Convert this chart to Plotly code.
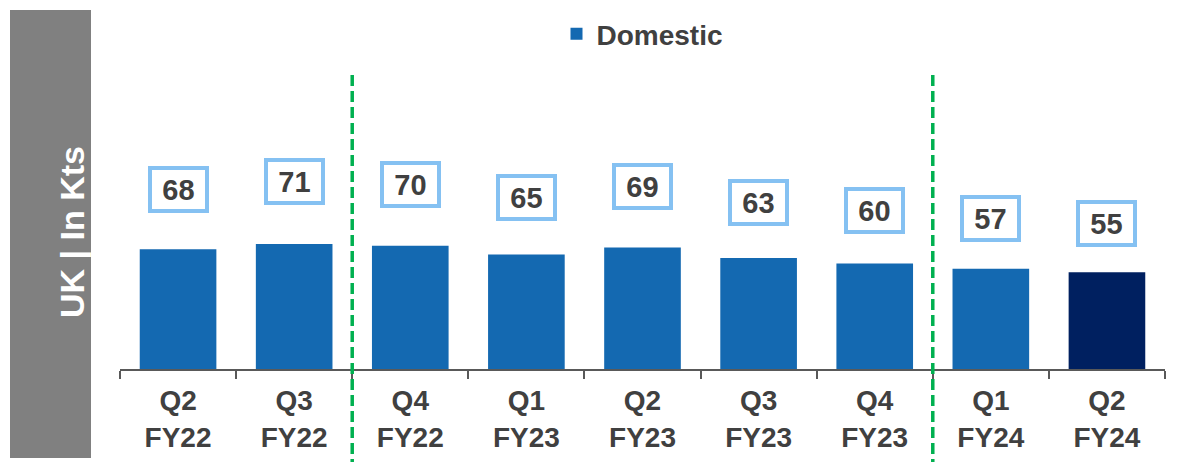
import plotly.graph_objects as go

categories = ["Q2<br>FY22", "Q3<br>FY22", "Q4<br>FY22", "Q1<br>FY23", "Q2<br>FY23",
              "Q3<br>FY23", "Q4<br>FY23", "Q1<br>FY24", "Q2<br>FY24"]
values = [68, 71, 70, 65, 69, 63, 60, 57, 55]
bar_colors = ["#1469B1"] * 8 + ["#002060"]
label_lift = 1.5  # labels sit at value * lift
divider_positions = [1.5, 6.5]

OFF = 8  # page body margin
W, H = 1179 - OFF, 462 - OFF
L = 120 - OFF
R = W - (1165 - OFF)
B = H - (369 - OFF)
T = 60
plot_h = H - T - B
plot_w = W - L - R
px_per_unit = 1.76
ymax = plot_h / px_per_unit


def fy(r):
    return (T + plot_h - (r - OFF)) / plot_h


def fx(r):
    return ((r - OFF) - L) / plot_w


FONT = "Liberation Sans, Arial"

fig = go.Figure()
fig.add_trace(go.Bar(
    x=categories, y=values, name="Domestic",
    marker=dict(color=bar_colors, line=dict(width=0)),
    width=0.66, showlegend=True,
))

for c, v in zip(categories, values):
    fig.add_annotation(
        x=c, y=v * label_lift, xref="x", yref="y",
        text=f"<b>{v}</b>", showarrow=False,
        font=dict(family=FONT, size=29, color="#404040"),
        bgcolor="white", bordercolor="#85C1F2", borderwidth=4, borderpad=0,
        width=53, height=39,
    )

for xpos in divider_positions:
    fig.add_shape(type="line", xref="x", yref="paper",
                  x0=xpos, x1=xpos, y0=fy(470), y1=fy(74),
                  line=dict(color="#00B050", width=3.5, dash="11px,5px"))

# gray side box
fig.add_shape(type="rect", xref="paper", yref="paper",
              x0=fx(10), x1=fx(91), y0=fy(458), y1=fy(10),
              fillcolor="#808080", line=dict(width=0), layer="below")
fig.add_annotation(
    xref="paper", yref="paper", x=fx(51), y=fy(232),
    text="<b>UK | In Kts</b>", textangle=-90, showarrow=False,
    font=dict(family=FONT, size=34, color="white"),
)

fig.update_layout(
    width=W, height=H,
    margin=dict(l=L, r=R, t=T, b=B, autoexpand=False),
    plot_bgcolor="white", paper_bgcolor="white",
    legend=dict(orientation="h", x=0.5, xanchor="center",
                y=fy(34), yanchor="middle",
                font=dict(family=FONT, size=28, color="#404040", weight="bold"),
                itemwidth=30),
    xaxis=dict(
        tickfont=dict(family=FONT, size=28, color="#404040", weight="bold"),
        showline=True, linecolor="#595959", linewidth=1.5,
        ticks="outside", tickson="boundaries", ticklen=8, tickcolor="#595959", tickwidth=1.5,
        ticklabelstandoff=6, showgrid=False, automargin=False,
    ),
    yaxis=dict(range=[0, ymax], visible=False, showgrid=False, zeroline=False),
)

fig.write_html("out.html")
